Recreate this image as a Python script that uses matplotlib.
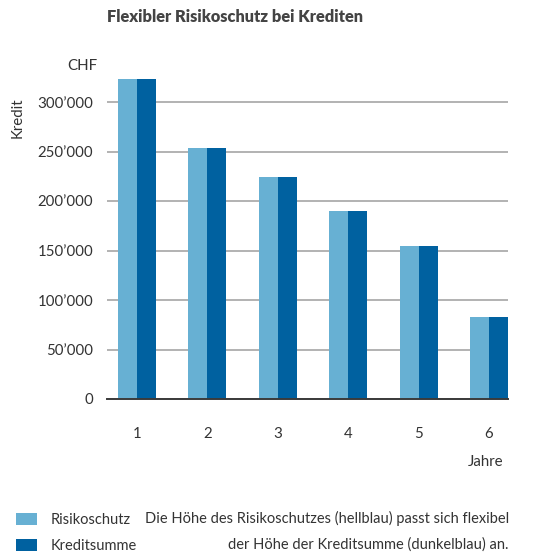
import matplotlib
matplotlib.use("Agg")
import matplotlib.pyplot as plt
import numpy as np

years = ["1", "2", "3", "4", "5", "6"]
risikoschutz = [323000, 254000, 224000, 190000, 155000, 83000]
kreditsumme = [323000, 254000, 224000, 190000, 155000, 83000]
yticks = [0, 50000, 100000, 150000, 200000, 250000, 300000]
ytick_labels = ["0", "50’000", "100’000", "150’000", "200’000", "250’000", "300’000"]
series_names = ["Risikoschutz", "Kreditsumme"]

LIGHT = "#67b0d3"
DARK = "#0061a0"
TXT = "#333333"

plt.rcParams['font.family'] = ['Lato', 'DejaVu Sans']

fig = plt.figure(figsize=(5.5, 5.57), dpi=100)
ax = fig.add_axes([107/550, (557-399)/557, (508-107)/550, (399-72.3)/557])

x = np.arange(1, len(years) + 1)
w = 0.27
b1 = ax.bar(x - w/2, risikoschutz, width=w, color=LIGHT, label=series_names[0], zorder=3)
b2 = ax.bar(x + w/2, kreditsumme, width=w, color=DARK, label=series_names[1], zorder=3)

ax.set_xlim(0.574, 6.27)
ax.set_ylim(0, 330000)
ax.set_yticks(yticks)
ax.set_yticklabels(ytick_labels)
ax.set_xticks(x)
ax.set_xticklabels(years)
ax.tick_params(axis='both', length=0, labelsize=10.8, colors=TXT)
ax.tick_params(axis='y', pad=10)
ax.tick_params(axis='x', pad=20)
ax.set_axisbelow(True)
ax.yaxis.grid(True, color="#a6a6a6", linewidth=1.2)
for s in ["top", "right", "left"]:
    ax.spines[s].set_visible(False)
ax.spines["bottom"].set_color("#3a3a3a")
ax.spines["bottom"].set_linewidth(1.4)
ax.spines["bottom"].set_zorder(4)

fig.text(235/550, 1 - 17/557, "Flexibler Risikoschutz bei Krediten", ha="center", va="center",
         fontsize=11.8, fontweight="heavy", color="#444444")
fig.text(97/550, 1 - 66/557, "CHF", ha="right", va="center", fontsize=10.8, color=TXT)
fig.text(18/550, 1 - 118/557, "Kredit", ha="center", va="center", rotation=90, fontsize=10.8, color=TXT)
fig.text(503/550, 1 - 462/557, "Jahre", ha="right", va="center", fontsize=10.8, color=TXT)

fig.legend(handles=[b1, b2], labels=series_names, loc="upper left", bbox_to_anchor=(0.005, 1 - 500/557),
           frameon=False, fontsize=10.5, handlelength=1.45, handleheight=0.85, handletextpad=0.9,
           labelspacing=0.8, labelcolor=TXT)

fig.text(509/550, 1 - 518/557, "Die Höhe des Risikoschutzes (hellblau) passt sich flexibel",
         ha="right", va="center", fontsize=10.5, color=TXT)
fig.text(509/550, 1 - 545/557, "der Höhe der Kreditsumme (dunkelblau) an.",
         ha="right", va="center", fontsize=10.5, color=TXT)

fig.savefig("out.png", dpi=100)
